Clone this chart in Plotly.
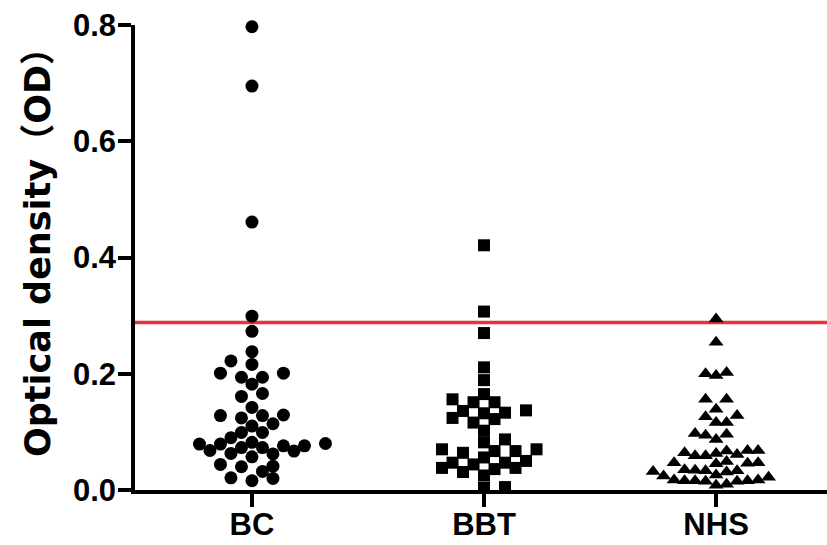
import numpy as np
import plotly.graph_objects as go

# ---------------- data ----------------
categories = ["BC", "BBT", "NHS"]

bc_values = [0.797, 0.695, 0.461, 0.299, 0.273, 0.238, 0.222, 0.216, 0.201, 0.201,
             0.194, 0.194, 0.182, 0.166, 0.161, 0.142, 0.129, 0.128, 0.128, 0.124,
             0.114, 0.110, 0.099, 0.099, 0.090, 0.082, 0.080, 0.079, 0.079, 0.076,
             0.076, 0.073, 0.073, 0.068, 0.067, 0.063, 0.062, 0.057, 0.044, 0.041,
             0.040, 0.032, 0.021, 0.020, 0.016]

bbt_values = [0.421, 0.307, 0.270, 0.211, 0.189, 0.165, 0.156, 0.151, 0.151, 0.137,
              0.136, 0.133, 0.132, 0.124, 0.122, 0.116, 0.102, 0.087, 0.082, 0.070,
              0.070, 0.067, 0.067, 0.064, 0.056, 0.050, 0.047, 0.047, 0.044, 0.038,
              0.038, 0.036, 0.031, 0.025, 0.005, 0.004]

nhs_values = [0.294, 0.254, 0.202, 0.200, 0.197, 0.156, 0.156, 0.139, 0.128, 0.126,
              0.116, 0.116, 0.097, 0.096, 0.094, 0.087, 0.068, 0.068, 0.067, 0.064,
              0.063, 0.061, 0.059, 0.059, 0.049, 0.047, 0.047, 0.046, 0.045, 0.035,
              0.034, 0.033, 0.033, 0.032, 0.031, 0.026, 0.024, 0.022, 0.017, 0.017,
              0.016, 0.016, 0.016, 0.015, 0.015, 0.010, 0.008]

cutoff_value = 0.288

y_tick_values = [0.0, 0.2, 0.4, 0.6, 0.8]
y_tick_labels = ["0.0", "0.2", "0.4", "0.6", "0.8"]

# ---------------- layout constants ----------------
W, H = 827, 545
M_L, M_R, M_T, M_B = 135, 0, 25, 55
Y_RANGE = [0.0, 0.8]
X_RANGE = [-0.504, 2.478]
plot_w = W - M_L - M_R
plot_h = H - M_T - M_B
px_per_y = plot_h / (Y_RANGE[1] - Y_RANGE[0])
px_per_x = plot_w / (X_RANGE[1] - X_RANGE[0])


def swarm_offsets(values, min_px=11.5, step_px=10.5):
    """Beeswarm on a column grid: each point (lowest first) takes the column
    nearest the centre where it does not collide with points already placed."""
    vals = np.asarray(values, dtype=float)
    ys = vals * px_per_y
    order = np.argsort(vals, kind="stable")
    placed = []  # (col, ypx)
    offs = np.zeros(len(vals))
    side = 1
    for i in order:
        y = ys[i]

        def free(c):
            for (pc, py) in placed:
                dx = (c - pc) * step_px
                dy = y - py
                if dx * dx + dy * dy < min_px * min_px:
                    return False
            return True

        col = None
        if free(0):
            col = 0
        else:
            k = 1
            while col is None:
                a, b = side * k, -side * k
                if free(a):
                    col = a
                elif free(b):
                    col = b
                k += 1
            side = -side
        placed.append((col, y))
        offs[i] = col * step_px / px_per_x
    return offs


series = [
    (bc_values, "circle", 13, 11.5),
    (bbt_values, "square", 12, 11.5),
    (nhs_values, "triangle-up", 13, 10.0),
]

fig = go.Figure()
for ci, (vals, sym, size, gap) in enumerate(series):
    offs = swarm_offsets(vals, min_px=gap)
    fig.add_trace(go.Scatter(
        x=ci + offs,
        y=vals,
        mode="markers",
        marker=dict(symbol=sym, size=size, color="black", line=dict(width=0)),
        cliponaxis=False,
        showlegend=False,
        hoverinfo="skip",
    ))

fig.add_shape(type="line", xref="paper", x0=0, x1=1, yref="y",
              y0=cutoff_value, y1=cutoff_value,
              line=dict(color="#e8323c", width=3.5), layer="below")

tick_font = dict(family="Liberation Sans, Arial, sans-serif", size=31, color="black")

fig.update_layout(
    width=W, height=H,
    margin=dict(l=M_L, r=M_R, t=M_T, b=M_B, pad=0, autoexpand=False),
    paper_bgcolor="white",
    plot_bgcolor="white",
    showlegend=False,
    xaxis=dict(
        range=X_RANGE,
        automargin=False,
        tickmode="array",
        tickvals=list(range(len(categories))),
        ticktext=["<b>%s</b>" % c for c in categories],
        tickfont=tick_font,
        ticklabelstandoff=-9,
        showline=True, linecolor="black", linewidth=3.5,
        ticks="outside", ticklen=13, tickwidth=3.5, tickcolor="black",
        showgrid=False, zeroline=False,
    ),
    yaxis=dict(
        range=Y_RANGE,
        automargin=False,
        tickmode="array",
        tickvals=y_tick_values,
        ticktext=["<b>%s</b>" % t for t in y_tick_labels],
        tickfont=tick_font,
        ticklabelstandoff=-4,
        showline=True, linecolor="black", linewidth=3.5,
        ticks="outside", ticklen=13, tickwidth=3.5, tickcolor="black",
        showgrid=False, zeroline=False,
    ),
    annotations=[dict(
        text="<b>Optical density（OD）</b>",
        xref="paper", yref="paper",
        x=(38 - M_L) / plot_w, y=(H - M_B - 244) / plot_h,
        xanchor="center", yanchor="middle",
        textangle=-90, showarrow=False,
        font=dict(family="DejaVu Sans, Noto Sans CJK SC, sans-serif", size=35, color="black"),
    )],
)

fig.write_html(
    "out.html",
    config={"displayModeBar": False},
    post_script="document.body.style.margin='0';document.body.style.overflow='hidden';",
)
